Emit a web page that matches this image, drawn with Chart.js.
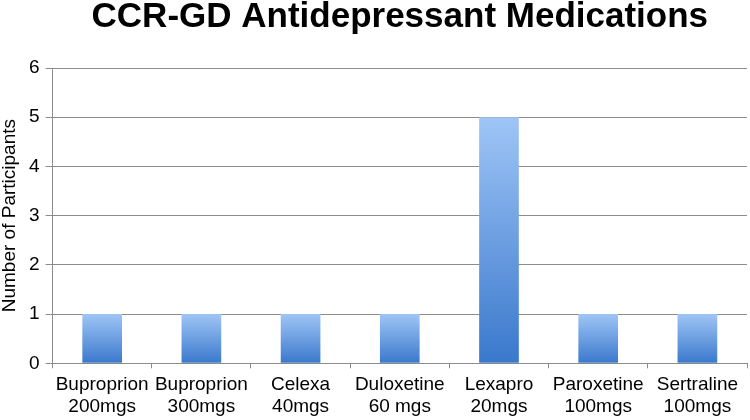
<!DOCTYPE html>
<html lang="en">
<head>
    <meta charset="UTF-8">
    <title>CCR-GD Antidepressant Medications</title>
    <script src="https://cdn.jsdelivr.net/npm/chart.js"></script>
    <style>
      body { margin: 0; background: white; }
      .grafico { width: 750px; height: 420px; }
    </style>
</head>
<body>
    <div class="grafico">
        <canvas id="myChart"></canvas>
    </div>
<script>
  const medicamentos = [
    ['Buproprion', '200mgs'],
    ['Buproprion', '300mgs'],
    ['Celexa', '40mgs'],
    ['Duloxetine', '60 mgs'],
    ['Lexapro', '20mgs'],
    ['Paroxetine', '100mgs'],
    ['Sertraline', '100mgs']
  ]
  const participantes = [1, 1, 1, 1, 5, 1, 1]
  const marcasY = [0, 1, 2, 3, 4, 5, 6]

  // each bar gets its own vertical gradient, light on top, dark at the base
  function corBarra(context) {
    const chart = context.chart
    if (!chart.chartArea || context.raw === undefined) return '#6a9fe3'
    const y = chart.scales.y
    const topo = y.getPixelForValue(context.raw)
    const base = y.getPixelForValue(0)
    const g = chart.ctx.createLinearGradient(0, topo, 0, base)
    g.addColorStop(0, '#9fc5f6')
    g.addColorStop(1, '#3a78cc')
    return g
  }

  const fonte = 'Liberation Sans, Arial'
  const ctx = document.getElementById('myChart')
  new Chart(ctx, {
    type: 'bar',
    data: {
      labels: medicamentos,
      datasets: [{
        label: 'Participants',
        data: participantes,
        backgroundColor: corBarra,
        borderWidth: 0,
        categoryPercentage: 1,
        barPercentage: 0.40
      }]
    },
    options: {
      responsive: true,
      maintainAspectRatio: false,
      animation: false,
      layout: { padding: { left: 0, right: 3, top: 0, bottom: -4 } },
      plugins: {
        legend: { display: false },
        tooltip: { enabled: false },
        title: {
          display: true,
          fullSize: false,
          text: 'CCR-GD Antidepressant Medications',
          color: '#000',
          font: { family: fonte, size: 35, weight: 'bold', lineHeight: 1.0 },
          padding: { top: 0, bottom: 33 }
        }
      },
      scales: {
        y: {
          min: 0,
          max: 6,
          afterBuildTicks: axis => { axis.ticks = marcasY.map(v => ({ value: v })) },
          grid: { color: '#8c8c8c', lineWidth: 1, tickLength: 7 },
          border: { color: '#8c8c8c' },
          ticks: {
            color: '#000',
            padding: 6,
            font: { family: fonte, size: 19 }
          },
          title: {
            display: true,
            text: 'Number of Participants',
            color: '#000',
            padding: { top: 0, bottom: 4 },
            font: { family: fonte, size: 19, lineHeight: 1.0 }
          }
        },
        x: {
          grid: { drawOnChartArea: false, color: '#8c8c8c', tickLength: 5 },
          border: { color: '#8c8c8c' },
          ticks: {
            color: '#000',
            padding: 6,
            maxRotation: 0,
            autoSkip: false,
            font: { family: fonte, size: 19, lineHeight: 1.15 }
          }
        }
      }
    }
  })
</script>
</body>
</html>
